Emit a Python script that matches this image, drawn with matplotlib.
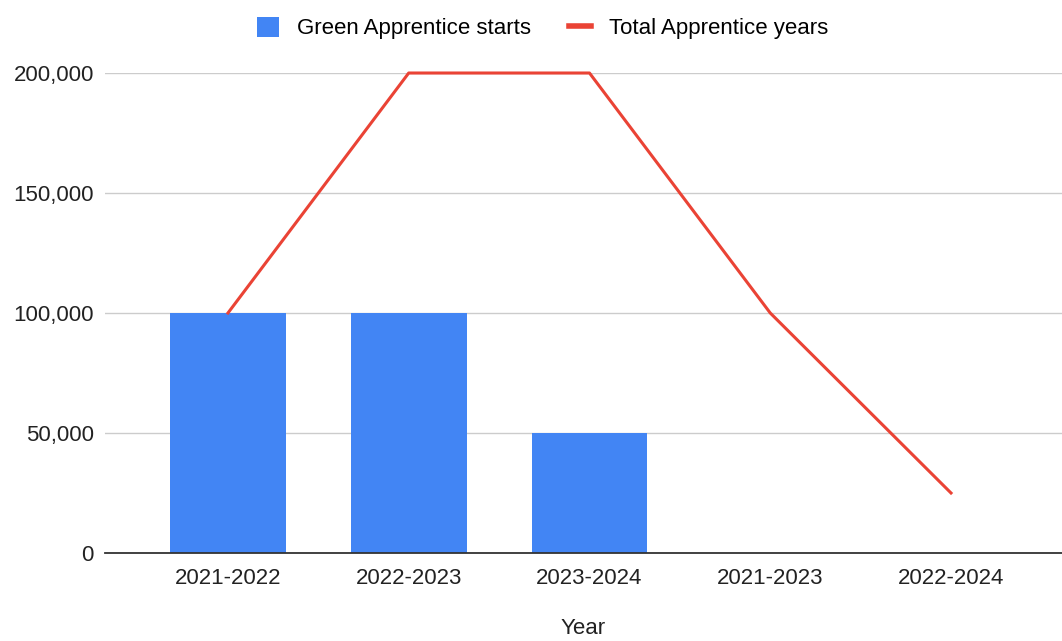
import matplotlib
matplotlib.use("Agg")
import matplotlib.pyplot as plt
from matplotlib.ticker import FuncFormatter
from matplotlib.lines import Line2D
import numpy as np

plt.rcParams['font.family'] = ['Liberation Sans', 'DejaVu Sans']

years = ['2021-2022', '2022-2023', '2023-2024', '2021-2023', '2022-2024']
green_starts = [100000, 100000, 50000, 0, 0]
total_years = [100000, 200000, 200000, 100000, 25000]

fig = plt.figure(figsize=(10.62, 6.41), dpi=100)
ax = fig.add_axes([0.0989, 0.1373, 0.9011, 0.7488])

x = np.arange(len(years))
bars = ax.bar(x, green_starts, width=0.64, color='#4285f4', zorder=2,
              label='Green Apprentice starts')
ax.plot(x, total_years, color='#ea4335', linewidth=2.2, zorder=3,
        clip_on=False)
# thicker swatch for the legend
line_key = Line2D([], [], color='#ea4335', linewidth=4, label='Total Apprentice years')

ax.set_xlim(-0.68, 4.614)
ax.set_ylim(0, 200000)
ax.set_yticks([0, 50000, 100000, 150000, 200000])
ax.yaxis.set_major_formatter(FuncFormatter(lambda v, p: '{:,.0f}'.format(v)))
ax.set_xticks(x)
ax.set_xticklabels(years)

ax.grid(axis='y', color='#cccccc', linewidth=1.0, zorder=0)
ax.set_axisbelow(True)
for s in ['top', 'right', 'left']:
    ax.spines[s].set_visible(False)
ax.spines['bottom'].set_color('#333333')
ax.spines['bottom'].set_linewidth(1.3)
ax.spines['bottom'].set_zorder(4)

ax.tick_params(axis='y', length=0, pad=8, labelsize=16, labelcolor='#222222')
ax.tick_params(axis='x', length=0, pad=11, labelsize=16, labelcolor='#222222')
ax.set_xlabel('Year', fontsize=16, color='#222222', labelpad=21)

fig.legend(handles=[bars, line_key], loc='upper center', bbox_to_anchor=(0.511, 1.005),
           ncol=2, frameon=False, fontsize=16, handlelength=1.0, handleheight=1.0,
           columnspacing=1.7, handletextpad=0.8)

fig.savefig('out.png', dpi=100)
